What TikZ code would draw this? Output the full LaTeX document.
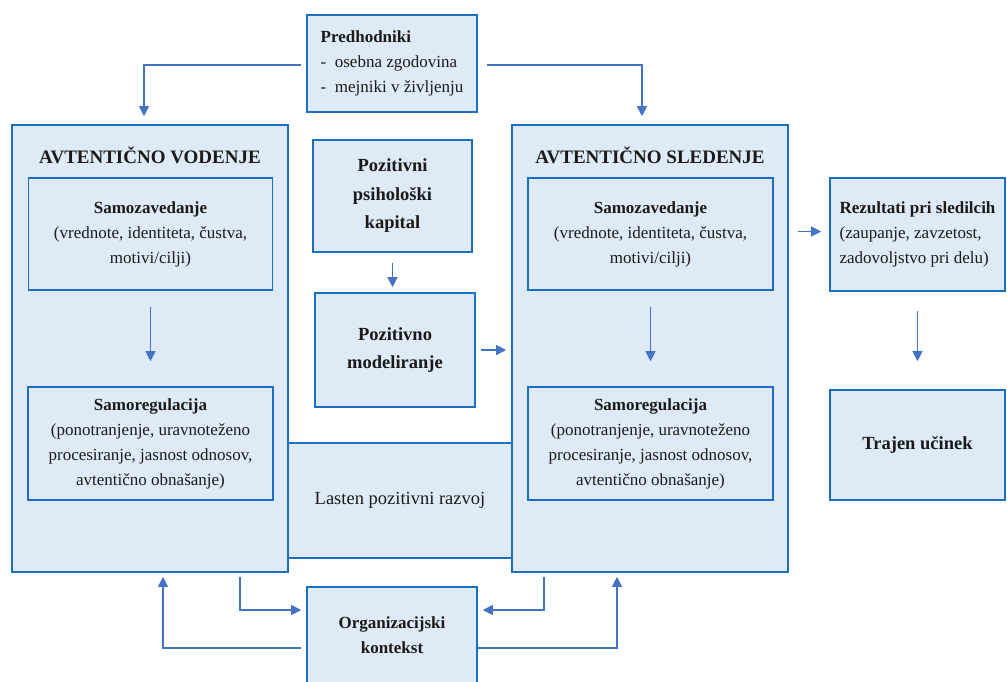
\documentclass[tikz,border=0pt]{standalone}
\usepackage{fontspec}
\setmainfont{Liberation Serif}
\usetikzlibrary{arrows.meta}

\definecolor{boxfill}{HTML}{DEEBF7}
\definecolor{boxline}{HTML}{1A6FC4}
\definecolor{arrowblue}{HTML}{4472C4}
\definecolor{ink}{HTML}{1A1A1A}

\begin{document}
\begin{tikzpicture}[x=1pt,y=-1pt]

      % Styles: light blue boxes with a blue border, thin blue arrows
      \tikzstyle{box}=[draw=boxline, fill=boxfill, line width=1.6pt, inner sep=0pt, align=center, text=ink, font=\fontsize{17}{25}\selectfont]
      \tikzstyle{bigtext}=[font=\fontsize{18.5}{28.5}\selectfont\bfseries]
      \tikzstyle{title}=[inner sep=0pt, text=ink, font=\fontsize{19}{25}\selectfont\bfseries]
      \tikzstyle{arr}=[draw=arrowblue, line width=1.1pt, -{Triangle[width=10pt,length=10pt]}]

      \useasboundingbox (0,0) rectangle (1007,681);
      \clip (0,0) rectangle (1007,681);

      % The two large frames
      \node [box, minimum width=276pt, minimum height=447pt] (lead) at (150,348.5) {};
      \node [box, minimum width=276pt, minimum height=447pt] (follow) at (650,348.5) {};
      \node [title] (leadtitle) at (150,155) {AVTENTIČNO VODENJE};
      \node [title] (followtitle) at (650,155) {AVTENTIČNO SLEDENJE};

      % Band between the two frames
      \node [box, minimum width=224pt, minimum height=115pt, font=\fontsize{18.5}{25}\selectfont] (razvoj) at (400,500.5) {Lasten pozitivni razvoj};

      % Inner boxes, leader side
      \node [box, minimum width=244pt, minimum height=112pt] (lsaw) at (150.5,234)
            {\textbf{Samozavedanje}\\(vrednote, identiteta, čustva,\\motivi/cilji)};
      \node [box, minimum width=245pt, minimum height=113pt] (lreg) at (150.5,443.5)
            {\textbf{Samoregulacija}\\(ponotranjenje, uravnoteženo\\procesiranje, jasnost odnosov,\\avtentično obnašanje)};

      % Inner boxes, follower side
      \node [box, minimum width=245pt, minimum height=112pt] (rsaw) at (650.5,234)
            {\textbf{Samozavedanje}\\(vrednote, identiteta, čustva,\\motivi/cilji)};
      \node [box, minimum width=245pt, minimum height=113pt] (rreg) at (650.5,443.5)
            {\textbf{Samoregulacija}\\(ponotranjenje, uravnoteženo\\procesiranje, jasnost odnosov,\\avtentično obnašanje)};

      % Middle column
      \node [box, minimum width=170pt, minimum height=97pt, align=left] (pred) at (392,63.5)
            {\textbf{Predhodniki}\\-\ \ osebna zgodovina\\-\ \ mejniki v življenju};
      \node [box, bigtext, minimum width=159pt, minimum height=112pt] (kapital) at (392.5,196)
            {Pozitivni\\psihološki\\kapital};
      \node [box, bigtext, minimum width=160pt, minimum height=114pt] (model) at (395,350)
            {Pozitivno\\modeliranje};
      \node [box, minimum width=170pt, minimum height=96pt, font=\fontsize{17}{25}\selectfont\bfseries] (org) at (392,635)
            {Organizacijski\\kontekst};

      % Outcomes on the right
      \node [box, minimum width=175pt, minimum height=113pt, align=left] (rez) at (917.5,234.5)
            {\textbf{Rezultati pri sledilcih}\\(zaupanje, zavzetost,\\zadovoljstvo pri delu)};
      \node [box, bigtext, minimum width=175pt, minimum height=110pt] (trajen) at (917.5,445)
            {Trajen učinek};

      % Arrows from the antecedents
      \draw [arr, shorten <=5pt, shorten >=8pt] ([yshift=-1.5pt]pred.west) -| ([xshift=-6pt]lead.north);
      \draw [arr, shorten <=9pt, shorten >=8pt] ([yshift=-1.5pt]pred.east) -| ([xshift=-8pt]follow.north);

      % Arrows inside the frames
      \draw [arr, shorten <=16pt, shorten >=25pt] (lsaw) -- (lreg);
      \draw [arr, shorten <=16pt, shorten >=25pt] (rsaw) -- (rreg);
      \draw [arr, shorten <=10pt, shorten >=5pt] (kapital) -- (kapital |- model.north);
      \draw [arr, shorten <=5pt, shorten >=5pt] (model) -- (model -| follow.west);

      % Arrows towards the outcomes
      \draw [arr, shorten <=9pt, shorten >=8pt] ([yshift=3pt]rez.west -| follow.east) -- ([yshift=3pt]rez.west);
      \draw [arr, shorten <=19pt, shorten >=28pt] (rez) -- (trajen);

      % Loops with the organisational context
      \draw [arr, shorten <=4pt, shorten >=5pt] ([xshift=90pt]lead.south) |- ([yshift=25pt]org.west);
      \draw [arr, shorten <=5pt, shorten >=4pt] ([yshift=-13pt]org.west) -| ([xshift=13pt]lead.south);
      \draw [arr, shorten <=4pt, shorten >=5pt] ([xshift=-106pt]follow.south) |- ([yshift=25pt]org.east);
      \draw [arr, shorten >=4pt] ([yshift=-13pt]org.east) -| ([xshift=-33pt]follow.south);

\end{tikzpicture}
\end{document}
